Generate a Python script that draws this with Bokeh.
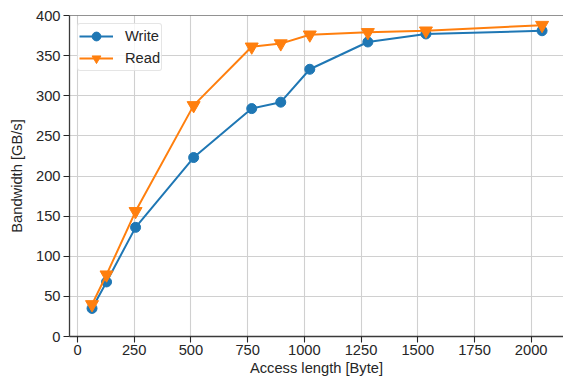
from bokeh.plotting import figure
from bokeh.models import Range1d, FixedTicker, Legend, Span
from bokeh.embed import file_html
from bokeh.resources import INLINE

access_len = [64, 128, 256, 512, 768, 896, 1024, 1280, 1536, 2048]
write_bw = [35, 68, 136, 223, 284, 292, 333, 367, 377, 381]
read_bw = [40, 77, 156, 288, 361, 365, 376, 379, 381, 388]
x_ticks = [0, 250, 500, 750, 1000, 1250, 1500, 1750, 2000]
y_ticks = [0, 50, 100, 150, 200, 250, 300, 350, 400]

BLUE = "#1f77b4"
ORANGE = "#ff7f0e"
TXT = "#262626"
FONT = "Liberation Sans"
FS = "14.7px"

p = figure(width=563, height=380, output_backend="svg", toolbar_location=None,
           x_range=Range1d(-35.3, 2142.5), y_range=Range1d(0, 400),
           min_border_left=69, min_border_top=15, min_border_right=0, min_border_bottom=44)

p.background_fill_color = "white"
p.border_fill_color = "white"
p.outline_line_color = None

for ax in (p.xaxis[0], p.yaxis[0]):
    ax.axis_line_color = "#3a3a3a"
    ax.axis_line_width = 1.3
    ax.major_tick_line_color = "#262626"
    ax.major_tick_line_width = 1.1
    ax.major_tick_out = 6
    ax.major_tick_in = 0
    ax.minor_tick_line_color = None
    ax.major_label_text_font = FONT
    ax.major_label_text_font_size = FS
    ax.major_label_text_color = TXT
    ax.axis_label_text_font = FONT
    ax.axis_label_text_font_size = FS
    ax.axis_label_text_font_style = "normal"
    ax.axis_label_text_color = TXT

p.xaxis.ticker = FixedTicker(ticks=x_ticks)
p.yaxis.ticker = FixedTicker(ticks=y_ticks)
p.xaxis.axis_label = "Access length [Byte]"
p.yaxis.axis_label = "Bandwidth [GB/s]"
p.xaxis.major_label_standoff = 2
p.yaxis.major_label_standoff = 3
p.xaxis.axis_label_standoff = 2
p.yaxis.axis_label_standoff = 8

p.xgrid.grid_line_color = "#d0d0d0"
p.ygrid.grid_line_color = "#d0d0d0"
p.xgrid.grid_line_width = 1.1
p.ygrid.grid_line_width = 1.1

# top spine
p.add_layout(Span(location=y_ticks[-1], dimension="width", line_color="#262626", line_width=1.2))

lw = p.line(access_len, write_bw, line_color=BLUE, line_width=2)
sw = p.scatter(access_len, write_bw, marker="circle", size=10, fill_color=BLUE, line_color=BLUE)
lr = p.line(access_len, read_bw, line_color=ORANGE, line_width=2)
sr = p.scatter(access_len, read_bw, marker="inverted_triangle", size=13, fill_color=ORANGE, line_color=ORANGE)

legend = Legend(items=[("Write", [lw, sw]), ("Read", [lr, sr])], location="top_left")
legend.label_text_font = FONT
legend.label_text_font_size = FS
legend.label_text_color = TXT
legend.glyph_width = 34
legend.glyph_height = 22
legend.label_height = 22
legend.label_standoff = 12
legend.spacing = 0
legend.padding = 1
legend.margin = 8
legend.border_line_color = "#cccccc"
legend.border_line_width = 1
legend.border_radius = 3
legend.background_fill_alpha = 0.8
p.add_layout(legend)

open("out.html", "w").write(file_html(p, INLINE))
